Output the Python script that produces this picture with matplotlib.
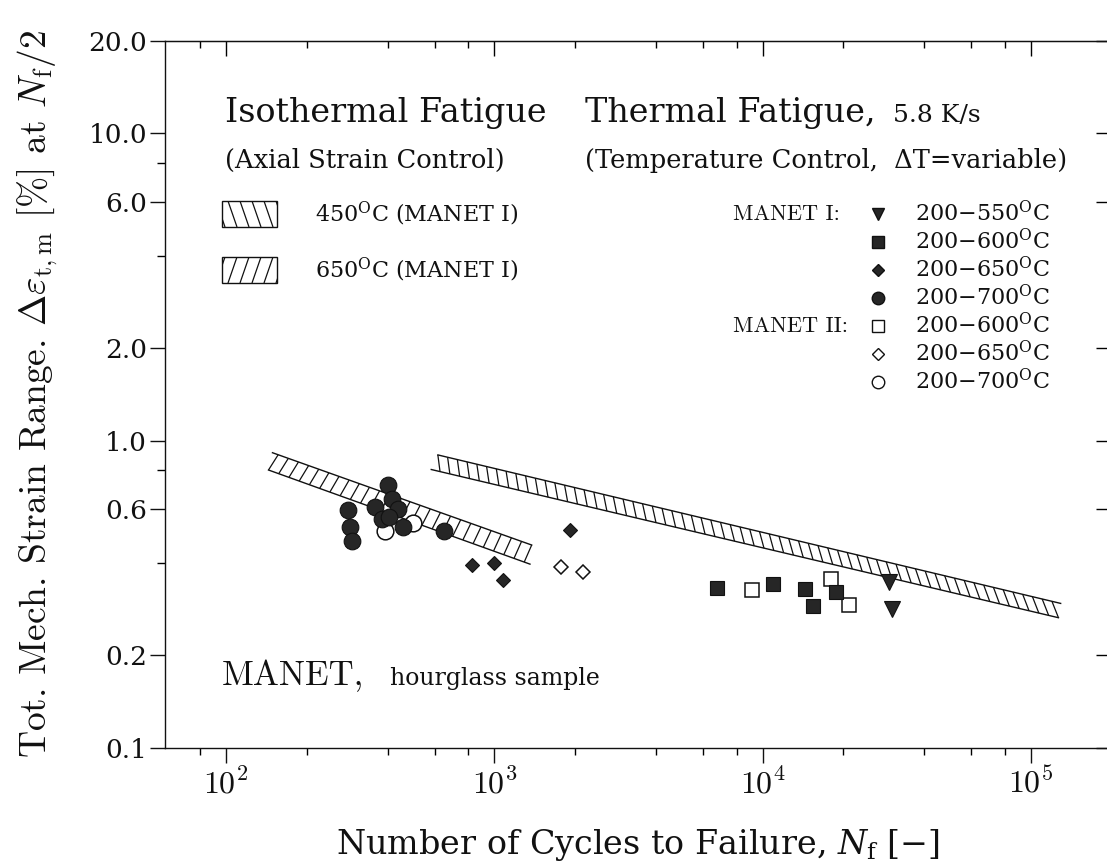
import numpy as np
import matplotlib
matplotlib.use("Agg")
import matplotlib.pyplot as plt
from matplotlib.ticker import FixedLocator, FixedFormatter, NullFormatter, NullLocator
from matplotlib.patches import Rectangle
from matplotlib.collections import LineCollection

# ---------------- data ----------------
x_major = [1e2, 1e3, 1e4, 1e5]
x_major_labels = [r"$10^{2}$", r"$10^{3}$", r"$10^{4}$", r"$10^{5}$"]
x_minor = [80, 200, 400, 600, 800, 2000, 4000, 6000, 8000,
           20000, 40000, 60000, 80000]
y_major = [0.1, 0.2, 0.6, 1.0, 2.0, 6.0, 10.0, 20.0]
y_major_labels = ["0.1", "0.2", "0.6", "1.0", "2.0", "6.0", "10.0", "20.0"]
y_minor = [0.4, 0.8, 4.0, 8.0]

# isothermal scatter bands (start / end of upper and lower edges)
band650_upper_N = [149, 1378]
band650_upper_S = [0.913, 0.457]
band650_lower_N = [144, 1358]
band650_lower_S = [0.802, 0.396]
band450_upper_N = [616, 129000]
band450_upper_S = [0.898, 0.295]
band450_lower_N = [582, 126600]
band450_lower_S = [0.805, 0.265]

# thermal fatigue, MANET I (filled symbols)
m1_550_N = [29600, 30300]
m1_550_S = [0.347, 0.283]
m1_600_N = [6780, 10900, 14400, 15400, 18700]
m1_600_S = [0.332, 0.341, 0.328, 0.290, 0.322]
m1_650_N = [824, 998, 1075, 1920]
m1_650_S = [0.394, 0.400, 0.352, 0.512]
m1_700_N = [286, 290, 294, 359, 401, 416, 439, 380, 456, 406, 651]
m1_700_S = [0.594, 0.524, 0.471, 0.609, 0.717, 0.644, 0.599, 0.554,
            0.524, 0.565, 0.509]
# thermal fatigue, MANET II (open symbols)
m2_600_N = [9150, 17900, 20900]
m2_600_S = [0.326, 0.353, 0.292]
m2_650_N = [1770, 2140]
m2_650_S = [0.387, 0.374]
m2_700_N = [391, 499]
m2_700_S = [0.509, 0.538]

legend_ranges = ["200\u2212550", "200\u2212600", "200\u2212650", "200\u2212700",
                 "200\u2212600", "200\u2212650", "200\u2212700"]

# ---------------- figure ----------------
W, H = 1107, 861
fig = plt.figure(figsize=(W / 100, H / 100), dpi=100)
K = "#111111"
FILL = "#262626"
SERIF = "DejaVu Serif"


def fx(px):
    return px / W


def fy(py):
    return 1 - py / H


AX_L, AX_R, AX_T, AX_B = 165, 1107, 41, 747.7
ax = fig.add_axes([fx(AX_L), fy(AX_B), fx(AX_R) - fx(AX_L), fy(AX_T) - fy(AX_B)])
ax.set_xscale("log")
ax.set_yscale("log")
ax.set_xlim(59.25, 192000)
ax.set_ylim(0.1, 20)
for s in ["left", "bottom", "top"]:
    ax.spines[s].set_linewidth(1.0)
    ax.spines[s].set_color(K)
ax.spines["right"].set_visible(False)

ax.xaxis.set_major_locator(FixedLocator(x_major))
ax.xaxis.set_major_formatter(FixedFormatter(x_major_labels))
ax.xaxis.set_minor_locator(FixedLocator(x_minor))
ax.xaxis.set_minor_formatter(NullFormatter())
ax.yaxis.set_major_locator(FixedLocator(y_major))
ax.yaxis.set_major_formatter(FixedFormatter(y_major_labels))
ax.yaxis.set_minor_locator(FixedLocator(y_minor))
ax.yaxis.set_minor_formatter(NullFormatter())
ax.tick_params(axis="x", which="major", direction="out", length=11, width=1,
               pad=4, labelsize=23, top=False, colors=K)
ax.tick_params(axis="x", which="minor", direction="out", length=5, width=1, top=False)
ax.tick_params(axis="y", which="major", direction="out", length=11, width=1,
               pad=2, labelsize=19, right=False, colors=K)
ax.tick_params(axis="y", which="minor", direction="out", length=6, width=1, right=False)
for lab in ax.get_xticklabels():
    lab.set_math_fontfamily("cm")
for lab in ax.get_yticklabels():
    lab.set_family(SERIF)

secx = ax.secondary_xaxis("top")
secx.xaxis.set_major_locator(FixedLocator(x_major))
secx.xaxis.set_minor_locator(FixedLocator(x_minor))
secx.xaxis.set_major_formatter(NullFormatter())
secx.xaxis.set_minor_formatter(NullFormatter())
secx.tick_params(which="major", direction="in", length=11, width=1)
secx.tick_params(which="minor", direction="in", length=5, width=1)

secy = ax.secondary_yaxis("right")
secy.yaxis.set_major_locator(FixedLocator(y_major))
secy.yaxis.set_minor_locator(NullLocator())
secy.yaxis.set_major_formatter(NullFormatter())
secy.tick_params(which="major", direction="in", length=8, width=1)
for sp in secy.spines.values():
    sp.set_visible(False)


# ---------------- scatter bands ----------------
def edge(N, S, t):
    lx = np.log10(N[0]) + t * (np.log10(N[1]) - np.log10(N[0]))
    ly = np.log10(S[0]) + t * (np.log10(S[1]) - np.log10(S[0]))
    return 10 ** lx, 10 ** ly


def draw_band(uN, uS, lN, lS, n_lines, slant, direction):
    t = np.linspace(0, 1, 100)
    ax.plot(*edge(uN, uS, t), color=K, lw=1.0, zorder=2)
    ax.plot(*edge(lN, lS, t), color=K, lw=1.0, zorder=2)
    ts = np.linspace(0, 1 - slant, n_lines)
    ux0, uy0 = edge(uN, uS, ts)
    lx0, ly0 = edge(lN, lS, ts)
    ux1, uy1 = edge(uN, uS, ts + slant)
    lx1, ly1 = edge(lN, lS, ts + slant)
    if direction == "/":
        segs = [[(a, b), (c, d)] for a, b, c, d in zip(lx0, ly0, ux1, uy1)]
    else:
        segs = [[(a, b), (c, d)] for a, b, c, d in zip(ux0, uy0, lx1, ly1)]
    ax.add_collection(LineCollection(segs, colors=K, linewidths=0.9, zorder=2))


draw_band(band650_upper_N, band650_upper_S, band650_lower_N, band650_lower_S,
          26, 0.022, "/")
draw_band(band450_upper_N, band450_upper_S, band450_lower_N, band450_lower_S,
          64, 0.014, "\\")

# ---------------- data points ----------------
open_kw = dict(ls="none", mfc="white", mec=K, mew=1.1, zorder=3)
fill_kw = dict(ls="none", mfc=FILL, mec=K, mew=0.8, zorder=4)
ax.plot(m2_600_N, m2_600_S, "s", ms=10.5, **open_kw)
ax.plot(m2_650_N, m2_650_S, "D", ms=7.5, **open_kw)
ax.plot(m2_700_N, m2_700_S, "o", ms=12, **open_kw)
ax.plot(m1_550_N, m1_550_S, "v", ms=11, **fill_kw)
ax.plot(m1_600_N, m1_600_S, "s", ms=10.5, **fill_kw)
ax.plot(m1_650_N, m1_650_S, "D", ms=7.5, **fill_kw)
ax.plot(m1_700_N, m1_700_S, "o", ms=12, **fill_kw)


# ---------------- text ----------------
def T(px, py, s, size, family=SERIF, mathfam="dejavuserif", **kw):
    t = fig.text(fx(px), fy(py), s, fontsize=size, family=family, color=K, **kw)
    t.set_math_fontfamily(mathfam)
    return t


T(225, 122, "Isothermal Fatigue", 24, va="baseline")
T(585, 122, "Thermal Fatigue,", 24, va="baseline")
T(893, 122, "5.8 K/s", 18, va="baseline")
T(225, 168, "(Axial Strain Control)", 18.5, va="baseline")
T(585, 168, "(Temperature Control,  \u0394T=variable)", 18.5, va="baseline")


# hatched legend boxes for isothermal bands
def hatch_box(x0, yc, x1, hgt, direction, spacing, dx):
    y0, y1 = yc - hgt / 2, yc + hgt / 2
    rect = Rectangle((fx(x0), fy(y1)), fx(x1) - fx(x0), (y1 - y0) / H,
                     transform=fig.transFigure, fill=False, lw=1.0, ec=K)
    fig.add_artist(rect)
    segs = []
    for xs in np.arange(x0 - 2 * dx, x1 + 2 * dx, spacing):
        if direction == "\\":
            segs.append([(fx(xs), fy(y0)), (fx(xs + dx), fy(y1))])
        else:
            segs.append([(fx(xs + dx), fy(y0)), (fx(xs), fy(y1))])
    lc = LineCollection(segs, colors=K, linewidths=0.9, transform=fig.transFigure)
    fig.add_artist(lc)
    lc.set_clip_path(rect)


rows = [214 + 28 * i for i in range(7)]
row450, row650 = rows[0], rows[2]
hatch_box(222, row450, 277, 26, "\\", 12, 9)
hatch_box(222, row650, 277, 26, "/", 12, 9)
T(315, row450, r"450$^{\mathrm{O}}$C (MANET I)", 16, va="center")
T(315, row650, r"650$^{\mathrm{O}}$C (MANET I)", 16, va="center")

# thermal fatigue legend
T(733, rows[0], "MANET I:", 16, family="cmr10", va="center")
T(733, rows[4], "MANET II:", 16, family="cmr10", va="center")
leg_markers = [("v", FILL), ("s", FILL), ("D", FILL), ("o", FILL),
               ("s", "white"), ("D", "white"), ("o", "white")]
for (mk, fc), r, lab in zip(leg_markers, rows, legend_ranges):
    ms = 6 if mk == "D" else 9
    fig.add_artist(plt.Line2D([fx(878)], [fy(r)], marker=mk, ms=ms, mfc=fc,
                              mec=K, mew=1.0, ls="none",
                              transform=fig.transFigure))
    T(915, r, lab + r"$^{\mathrm{O}}$C", 16, va="center")

T(222, 685, "MANET,", 25, family="cmr10", va="baseline")
T(390, 685, "hourglass sample", 17, va="baseline")

# axis labels
T(638, 845, "Number of Cycles to Failure, $N_{\\mathrm{f}}$ [\u2212]", 24,
  ha="center", va="center")
T(38, 394, r"Tot. Mech. Strain Range. $\Delta\varepsilon_{\mathrm{t,m}}$ [%] at $N_{\mathrm{f}}/2$",
  27, family="cmr10", mathfam="cm", rotation=90, ha="center", va="center")

fig.savefig("out.png", dpi=100)
